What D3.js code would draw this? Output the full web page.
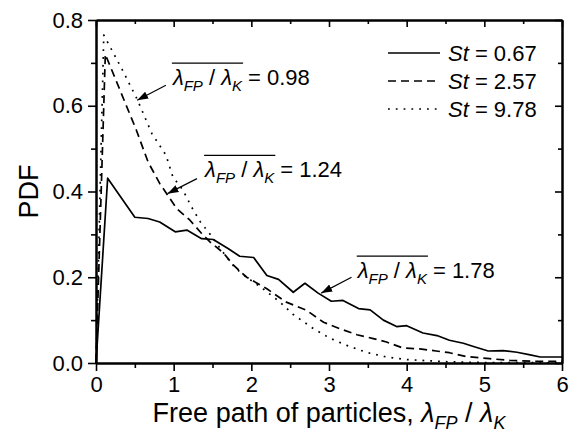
<!DOCTYPE html>
<html>
<head>
<meta charset="utf-8">
<script src="https://cdn.jsdelivr.net/npm/d3@7"></script>
<style>
  body { margin: 0; background: #fff; }
  svg { font-family: "Liberation Sans", Arial, sans-serif; }
</style>
</head>
<body>
<div id="vis"></div>
<script>
// free path PDF chart

const FRAME_WIDTH = 570;
const FRAME_HEIGHT = 433;
const MARGINS = {left: 96, right: 8, top: 20, bottom: 70};

const VIS_WIDTH = FRAME_WIDTH - MARGINS.left - MARGINS.right;
const VIS_HEIGHT = FRAME_HEIGHT - MARGINS.top - MARGINS.bottom;

// data: [lambda_FP / lambda_K, PDF]
const st067 = [[0,0],[0.15,0.431],[0.50,0.340],[0.67,0.337],[0.82,0.329],[1.02,0.306],
  [1.17,0.310],[1.36,0.290],[1.51,0.288],[1.70,0.267],[1.85,0.249],[2.03,0.246],
  [2.20,0.204],[2.35,0.195],[2.54,0.165],[2.69,0.186],[2.86,0.163],[3.03,0.144],
  [3.18,0.146],[3.38,0.127],[3.53,0.124],[3.70,0.100],[3.87,0.085],[4.00,0.087],
  [4.21,0.070],[4.39,0.064],[4.55,0.053],[4.73,0.046],[4.85,0.039],[5.05,0.028],
  [5.24,0.029],[5.42,0.025],[5.59,0.019],[5.72,0.014],[6.00,0.014]];
const st257 = [[0,0],[0.12,0.720],[0.52,0.543],[0.67,0.469],[0.82,0.419],[1.04,0.360],
  [1.21,0.333],[1.36,0.302],[1.47,0.282],[1.64,0.257],[1.77,0.228],[1.94,0.200],
  [2.20,0.173],[2.45,0.142],[2.71,0.123],[2.93,0.095],[3.14,0.080],[3.36,0.066],
  [3.57,0.057],[3.74,0.049],[3.95,0.035],[4.17,0.033],[4.38,0.028],[4.55,0.024],
  [4.77,0.015],[5.07,0.010],[5.33,0.006],[5.67,0.004],[6.00,0.004]];
const st978 = [[0,0],[0.10,0.765],[0.35,0.680],[0.53,0.615],[0.72,0.535],[0.90,0.485],
  [0.99,0.434],[1.12,0.403],[1.23,0.364],[1.34,0.330],[1.47,0.300],[1.62,0.262],
  [1.79,0.222],[1.94,0.200],[2.15,0.173],[2.37,0.142],[2.54,0.113],[2.80,0.080],
  [3.01,0.058],[3.23,0.041],[3.48,0.025],[3.74,0.014],[4.00,0.008],[4.50,0.003],
  [5.00,0.001],[6.00,0.0005]];

const seriesNames = ["0.67", "2.57", "9.78"];
const meanValues = ["0.98", "1.24", "1.78"];
const xTicks = [0, 1, 2, 3, 4, 5, 6];
const yTicks = [0.0, 0.2, 0.4, 0.6, 0.8];

const SERIES = [
  {name: seriesNames[0], pts: st067, dash: null},
  {name: seriesNames[1], pts: st257, dash: "8,5"},
  {name: seriesNames[2], pts: st978, dash: "1.8,6"}
];

// annotation layout (data units): text anchor, arrow tail, arrow head
const NOTES = [
  {val: meanValues[0], tx: 0.99, ty: 0.648, from: [0.90, 0.648], to: [0.53, 0.613]},
  {val: meanValues[1], tx: 1.405, ty: 0.433, from: [1.30, 0.430], to: [0.92, 0.395]},
  {val: meanValues[2], tx: 3.37, ty: 0.198, from: [3.29, 0.200], to: [2.90, 0.163]}
];

const svg = d3.select("#vis")
  .append("svg")
  .attr("width", FRAME_WIDTH)
  .attr("height", FRAME_HEIGHT);

const X_SCALE = d3.scaleLinear().domain([0, 6]).range([0, VIS_WIDTH]);
const Y_SCALE = d3.scaleLinear().domain([0, 0.8]).range([VIS_HEIGHT, 0]);

const g = svg.append("g")
  .attr("transform", "translate(" + MARGINS.left + "," + MARGINS.top + ")");

// minor ticks
const xMinor = d3.range(0.5, 6, 1);
const yMinor = d3.range(0.1, 0.8, 0.2);

function styleAxis(sel) {
  sel.select(".domain").attr("stroke-width", 2);
  sel.selectAll(".tick line").attr("stroke-width", 1.6);
  sel.selectAll("text").attr("font-size", "22px").attr("fill", "#000");
}

// bottom
g.append("g").attr("transform", "translate(0," + VIS_HEIGHT + ")")
  .call(d3.axisBottom(X_SCALE).tickValues(xTicks).tickFormat(d3.format("d"))
    .tickSize(8).tickSizeOuter(0).tickPadding(5))
  .call(styleAxis);
g.append("g").attr("transform", "translate(0," + VIS_HEIGHT + ")")
  .call(d3.axisBottom(X_SCALE).tickValues(xMinor).tickFormat("").tickSize(5).tickSizeOuter(0))
  .call(styleAxis);

// left
g.append("g")
  .call(d3.axisLeft(Y_SCALE).tickValues(yTicks).tickFormat(d3.format(".1f"))
    .tickSize(8).tickSizeOuter(0).tickPadding(5))
  .call(styleAxis);
g.append("g")
  .call(d3.axisLeft(Y_SCALE).tickValues(yMinor).tickFormat("").tickSize(5).tickSizeOuter(0))
  .call(styleAxis);

// top (ticks inward)
g.append("g")
  .call(d3.axisBottom(X_SCALE).tickValues(xTicks).tickFormat("").tickSize(7).tickSizeOuter(0))
  .call(styleAxis);
g.append("g")
  .call(d3.axisBottom(X_SCALE).tickValues(xMinor).tickFormat("").tickSize(4).tickSizeOuter(0))
  .call(styleAxis);

// right (ticks inward)
g.append("g").attr("transform", "translate(" + VIS_WIDTH + ",0)")
  .call(d3.axisLeft(Y_SCALE).tickValues(yTicks).tickFormat("").tickSize(7).tickSizeOuter(0))
  .call(styleAxis);
g.append("g").attr("transform", "translate(" + VIS_WIDTH + ",0)")
  .call(d3.axisLeft(Y_SCALE).tickValues(yMinor).tickFormat("").tickSize(4).tickSizeOuter(0))
  .call(styleAxis);

// curves
const line = d3.line()
  .x((d) => X_SCALE(d[0]))
  .y((d) => Y_SCALE(d[1]));

g.selectAll(".curve")
  .data(SERIES)
  .enter()
  .append("path")
    .attr("class", "curve")
    .attr("d", (d) => line(d.pts))
    .attr("fill", "none")
    .attr("stroke", "#000")
    .attr("stroke-width", 1.7)
    .attr("stroke-linejoin", "round")
    .attr("stroke-dasharray", (d) => d.dash);

// legend
const legend = g.append("g").attr("transform", "translate(" + (388 - MARGINS.left) + "," + (53 - MARGINS.top) + ")");
SERIES.forEach((s, i) => {
  const row = legend.append("g").attr("transform", "translate(0," + (i * 28) + ")");
  row.append("line")
    .attr("x1", 0).attr("x2", 52)
    .attr("stroke", "#000").attr("stroke-width", 1.7)
    .attr("stroke-dasharray", s.dash);
  const t = row.append("text").attr("x", 60).attr("y", 8).attr("font-size", "22px");
  t.append("tspan").attr("font-style", "italic").text("St");
  t.append("tspan").text(" = " + s.name);
});

// arrow head marker
svg.append("defs").append("marker")
  .attr("id", "arrow")
  .attr("viewBox", "0 0 10 10")
  .attr("refX", 10).attr("refY", 5)
  .attr("markerWidth", 11).attr("markerHeight", 11)
  .attr("markerUnits", "userSpaceOnUse")
  .attr("orient", "auto")
  .append("path")
    .attr("d", "M0,1.5 L10,5 L0,8.5 Z")
    .attr("fill", "#000");

// lambda_FP / lambda_K with overline
function lambdaRatio(sel) {
  sel.append("tspan").attr("font-style", "italic").text("λ");
  sel.append("tspan").attr("font-style", "italic").attr("font-size", "15px").attr("dy", 6).text("FP");
  sel.append("tspan").attr("dy", -6).text(" / ");
  sel.append("tspan").attr("font-style", "italic").text("λ");
  sel.append("tspan").attr("font-style", "italic").attr("font-size", "15px").attr("dy", 6).text("K");
}

NOTES.forEach((n) => {
  g.append("line")
    .attr("x1", X_SCALE(n.from[0])).attr("y1", Y_SCALE(n.from[1]))
    .attr("x2", X_SCALE(n.to[0])).attr("y2", Y_SCALE(n.to[1]))
    .attr("stroke", "#000").attr("stroke-width", 1.2)
    .attr("marker-end", "url(#arrow)");

  const x0 = X_SCALE(n.tx);
  const y0 = Y_SCALE(n.ty);
  const t = g.append("text").attr("x", x0).attr("y", y0).attr("font-size", "22px");
  t.call(lambdaRatio);
  const w = t.node().getComputedTextLength();
  g.append("line")
    .attr("x1", x0 - 1).attr("x2", x0 + w + 1)
    .attr("y1", y0 - 22).attr("y2", y0 - 22)
    .attr("stroke", "#000").attr("stroke-width", 1.2);
  g.append("text")
    .attr("x", x0 + w + 6).attr("y", y0)
    .attr("font-size", "22px")
    .text("= " + n.val);
});

// axis titles
const xt = svg.append("text")
  .attr("x", MARGINS.left + VIS_WIDTH / 2)
  .attr("y", 422)
  .attr("text-anchor", "middle")
  .attr("font-size", "27px");
xt.append("tspan").text("Free path of particles, ");
xt.append("tspan").attr("font-style", "italic").text("λ");
xt.append("tspan").attr("font-style", "italic").attr("font-size", "18px").attr("dy", 7).text("FP");
xt.append("tspan").attr("dy", -7).text(" / ");
xt.append("tspan").attr("font-style", "italic").text("λ");
xt.append("tspan").attr("font-style", "italic").attr("font-size", "18px").attr("dy", 7).text("K");

svg.append("text")
  .attr("transform", "translate(38," + (MARGINS.top + VIS_HEIGHT / 2) + ") rotate(-90)")
  .attr("text-anchor", "middle")
  .attr("font-size", "27px")
  .text("PDF");
</script>
</body>
</html>
